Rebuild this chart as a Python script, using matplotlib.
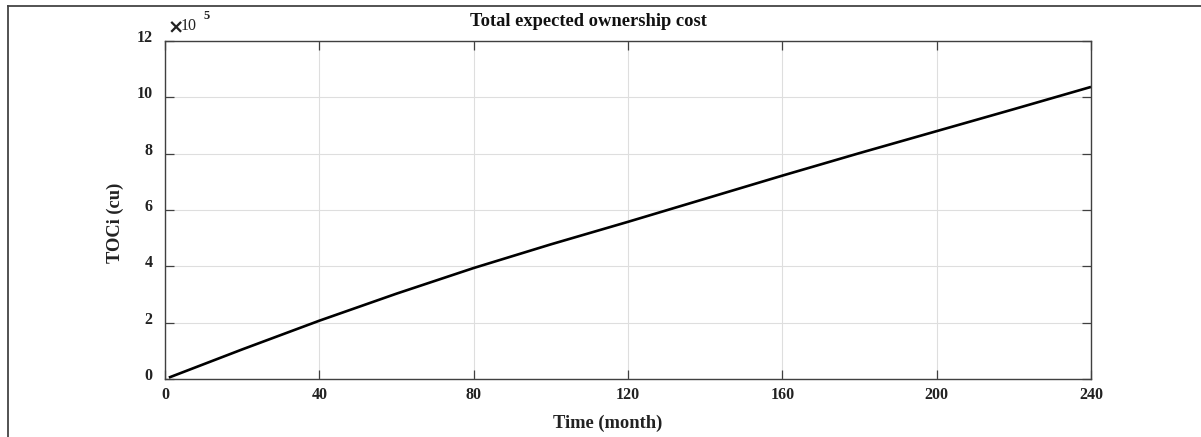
import matplotlib
matplotlib.use("Agg")
import matplotlib.pyplot as plt
import matplotlib.transforms as mtransforms
from matplotlib.lines import Line2D

# Total expected ownership cost over time (values in units of 1e5 cu)
months = [1, 20, 40, 60, 80, 100, 120, 140, 160, 180, 200, 220, 240]
toci_e5 = [0.05, 1.05, 2.07, 3.03, 3.94, 4.78, 5.58, 6.40, 7.22, 8.02, 8.80, 9.58, 10.37]

x_ticks = [0, 40, 80, 120, 160, 200, 240]
y_ticks = [0, 2, 4, 6, 8, 10, 12]

title_text = "Total expected ownership cost"
x_label = "Time (month)"
y_label = "TOCi (cu)"

serif = ["Liberation Serif", "DejaVu Serif"]
plt.rcParams["font.family"] = serif
plt.rcParams["font.weight"] = "bold"

W, H = 1201, 437
fig = plt.figure(figsize=(W / 100, H / 100), dpi=100)
fig.patch.set_facecolor("white")

# page frame lines (top and left)
fig.add_artist(Line2D([8 / W, 1.0], [1 - 6 / H, 1 - 6 / H], color="#444444", lw=1.3))
fig.add_artist(Line2D([8 / W, 8 / W], [1 - 6 / H, 0.0], color="#444444", lw=1.3))

ax = fig.add_axes([165 / W, 1 - 379 / H, (1091 - 165) / W, (379 - 41) / H])
ax.set_facecolor("white")

ax.plot(months, toci_e5, color="black", lw=1.9, solid_capstyle="butt")

ax.set_xlim(0, 240)
ax.set_ylim(0, 12)
ax.set_xticks(x_ticks)
ax.set_yticks(y_ticks)
ax.set_xticklabels([str(v) for v in x_ticks])
ax.set_yticklabels([str(v) for v in y_ticks])

ax.grid(True, color="#dedede", lw=0.8)
ax.set_axisbelow(True)
for s in ax.spines.values():
    s.set_color("#404040")
    s.set_linewidth(1.0)

ax.tick_params(direction="in", length=6.5, width=0.9, color="#404040",
               top=True, right=True, labelsize=11.5, labelcolor="#222222")
ax.tick_params(axis="x", pad=6)
ax.tick_params(axis="y", pad=9)
for lab in ax.get_xticklabels() + ax.get_yticklabels():
    lab.set_fontweight("bold")

# y tick labels sit slightly above their ticks
shift = mtransforms.ScaledTranslation(0, 5 / 100, fig.dpi_scale_trans)
for lab in ax.get_yticklabels():
    lab.set_transform(lab.get_transform() + shift)

fig.text(588 / W, 1 - 22 / H, title_text, ha="center", va="center",
         fontsize=13.3, fontweight="bold", color="#111111")
fig.text(608 / W, 1 - 423 / H, x_label, ha="center", va="center",
         fontsize=13.3, fontweight="bold", color="#222222")
fig.text(115 / W, 1 - 223 / H, y_label, ha="center", va="center", rotation=90,
         fontsize=13.3, fontweight="bold", color="#222222")

# exponent marker for the y axis
fig.text(167 / W, 1 - 29 / H, r"$\times$", ha="left", va="center",
         fontsize=14, color="#222222", fontweight="normal")
fig.text(181 / W, 1 - 26 / H, "10", ha="left", va="center",
         fontsize=11.5, color="#222222", fontweight="normal")
fig.text(204 / W, 1 - 16 / H, "5", ha="left", va="center",
         fontsize=9, color="#222222", fontweight="bold")

fig.savefig("out.png", dpi=100, facecolor="white")
